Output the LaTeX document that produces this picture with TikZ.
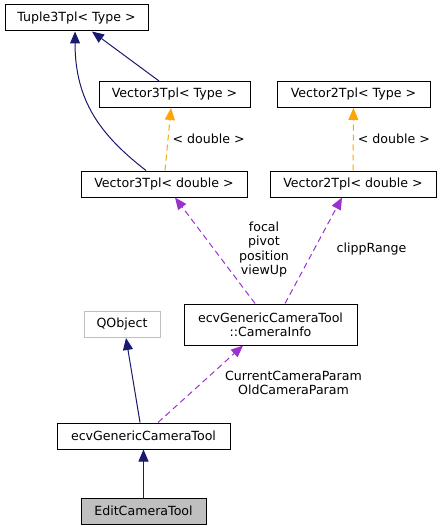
\documentclass[tikz,border=0pt]{standalone}
\usepackage{fontspec}
\setmainfont{DejaVu Sans}
\usetikzlibrary{arrows.meta}
\definecolor{navy}{HTML}{191970}
\definecolor{tmplorange}{HTML}{FFA500}
\definecolor{usepurple}{HTML}{9A32CD}
\definecolor{boxgray}{HTML}{BFBFBF}
\begin{document}
\begin{tikzpicture}[x=0.75pt,y=-0.75pt,
    font=\fontsize{9.45}{10.7}\selectfont,
    cls/.style={draw=black,line width=0.75pt,inner sep=0pt,minimum height=19.5pt,align=center},
    inh/.style={draw=navy,line width=0.75pt,-{Triangle[length=9pt,width=7.5pt]}},
    tmpl/.style={draw=tmplorange,line width=0.75pt,dash pattern=on 4.5pt off 3pt,-{Triangle[length=9pt,width=7.5pt]}},
    usage/.style={draw=usepurple,line width=0.75pt,dash pattern=on 4.5pt off 3pt,-{Triangle[length=9pt,width=7.5pt]}},
    lbl/.style={inner sep=0pt,align=center}]
      \useasboundingbox (0,0) rectangle (441,531);
        \begin{scope}[every node/.style={cls}]
          \node[minimum width=107.25pt] (tuple) at (76.5,18) {Tuple3Tpl< Type >};
          \node[minimum width=113.25pt] (vthree) at (174.5,94.5) {Vector3Tpl< Type >};
          \node[minimum width=114.75pt] (vtwo) at (353.5,94.5) {Vector2Tpl< Type >};
          \node[minimum width=124.5pt] (vthreed) at (164,184) {Vector3Tpl< double >};
          \node[minimum width=124.5pt] (vtwod) at (353,184) {Vector2Tpl< double >};
          \node[minimum width=129.75pt,minimum height=30.75pt] (caminfo) at (270.5,324.5) {ecvGenericCameraTool\\::CameraInfo};
          \node[minimum width=57pt,draw=boxgray] (qobj) at (122,324.5) {QObject};
          \node[minimum width=129.75pt] (gentool) at (143.5,436) {ecvGenericCameraTool};
          \node[minimum width=93.75pt,fill=boxgray] (edittool) at (143.5,511) {EditCameraTool};
        \end{scope}
        % inheritance
        \path ([xshift=-11.6pt]vthree.north) edge[inh] ([xshift=11.6pt]tuple.south);
        \draw[inh] ([xshift=-13.5pt]vthreed.north) .. controls +(-45,-35) and +(0,70) .. ([xshift=-1.1pt]tuple.south);
        \path ([xshift=-2.6pt]gentool.north) edge[inh] ([xshift=3pt]qobj.south);
        \path (edittool) edge[inh] (gentool);
        % templates
        \path ([xshift=0.75pt]vthreed.north) edge[tmpl] node[lbl,anchor=west,xshift=3pt] (lbldblthree) {< double >} ([xshift=-2.6pt]vthree.south);
        \path (vtwod) edge[tmpl] node[lbl,anchor=west,xshift=3pt] (lbldbltwo) {< double >} (vtwo);
        % members
        \path ([xshift=-11.6pt]caminfo.north) edge[usage] ([xshift=8.25pt]vthreed.south);
        \path ([xshift=10.9pt]caminfo.north) edge[usage] ([xshift=-8.25pt]vtwod.south);
        \path ([xshift=10.9pt]gentool.north) edge[usage] ([xshift=-20.6pt]caminfo.south);
      \node[lbl] (lblvec) at (264,249.5) {focal\\pivot\\position\\viewUp};
      \node[lbl] (lblclipp) at (371.5,249) {clippRange};
      \node[lbl] (lblparam) at (293.5,383) {CurrentCameraParam\\OldCameraParam};
      \end{tikzpicture}
\end{document}
